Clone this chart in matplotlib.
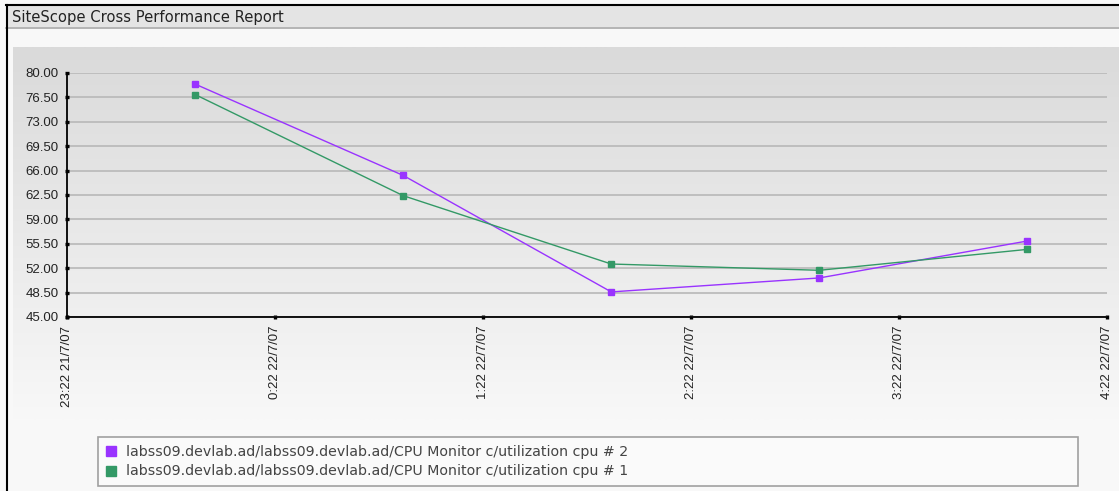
import numpy as np
import matplotlib
matplotlib.use("Agg")
import matplotlib.pyplot as plt
from matplotlib.lines import Line2D
from matplotlib.patches import Rectangle
from datetime import datetime

# samples (one per hour)
times = [datetime(2007, 7, 21, 23, 59), datetime(2007, 7, 22, 0, 59),
         datetime(2007, 7, 22, 1, 59), datetime(2007, 7, 22, 2, 59),
         datetime(2007, 7, 22, 3, 59)]
cpu2 = [78.4, 65.3, 48.6, 50.6, 55.9]
cpu1 = [76.9, 62.4, 52.6, 51.7, 54.7]
names = ["labss09.devlab.ad/labss09.devlab.ad/CPU Monitor c/utilization cpu # 2",
         "labss09.devlab.ad/labss09.devlab.ad/CPU Monitor c/utilization cpu # 1"]
colors = ["#9933ff", "#339966"]

y_ticks = [45.0, 48.5, 52.0, 55.5, 59.0, 62.5, 66.0, 69.5, 73.0, 76.5, 80.0]
x_ticks = [datetime(2007, 7, 21, 23, 22), datetime(2007, 7, 22, 0, 22),
           datetime(2007, 7, 22, 1, 22), datetime(2007, 7, 22, 2, 22),
           datetime(2007, 7, 22, 3, 22), datetime(2007, 7, 22, 4, 22)]
x_labels = ["23:22 21/7/07", "0:22 22/7/07", "1:22 22/7/07",
            "2:22 22/7/07", "3:22 22/7/07", "4:22 22/7/07"]

W, H = 1119, 491
fig = plt.figure(figsize=(W / 100, H / 100), dpi=100)
fig.patch.set_facecolor("#f8f8f8")

# page decoration in pixel coords
bg = fig.add_axes([0, 0, 1, 1])
bg.axis("off")
g = np.repeat((np.linspace(218, 248, 256) / 255)[:, None], 2, axis=1)
img = np.dstack([g, g, g])
bg.imshow(img, extent=(13, W, 420, 47), aspect="auto", origin="upper")
bg.add_patch(Rectangle((6, 5), W, 22, fc="#e4e4e4", ec="none"))
bg.plot([6, W], [27.5, 27.5], color="#a8a8a8", lw=1.2)
bg.plot([6, W], [5, 5], color="black", lw=1.5)
bg.plot([6.5, 6.5], [5, H], color="black", lw=1.5)
bg.text(12, 17, "SiteScope Cross Performance Report", fontsize=10.6,
        family="DejaVu Sans", color="#222222", va="center", ha="left")
bg.set_xlim(0, W)
bg.set_ylim(H, 0)

ax = fig.add_axes([67 / W, (H - 317) / H, (1107 - 67) / W, (317 - 73) / H])
ax.set_facecolor("none")
for t, s, c in zip(names, [cpu2, cpu1], colors):
    ax.plot(times, s, color=c, lw=1, marker="s", ms=4, label=t)

ax.set_xlim(x_ticks[0], x_ticks[-1])
ax.set_ylim(y_ticks[0], y_ticks[-1])
ax.set_yticks(y_ticks)
ax.set_yticklabels(["%.2f" % v for v in y_ticks])
ax.set_xticks(x_ticks)
ax.set_xticklabels(x_labels, rotation=90, va="top", ha="center")
ax.grid(axis="y", color="#b8b8b8", lw=1.2)
ax.set_axisbelow(True)
for side in ["top", "right"]:
    ax.spines[side].set_visible(False)
for side in ["left", "bottom"]:
    ax.spines[side].set_color("black")
    ax.spines[side].set_linewidth(1.3)
ax.tick_params(axis="both", direction="inout", length=2.4, width=2.4,
               color="black", labelsize=9.5, labelcolor="#222222")
ax.tick_params(axis="y", pad=5)
ax.tick_params(axis="x", pad=5)
for lab in ax.get_xticklabels() + ax.get_yticklabels():
    lab.set_family("Liberation Sans")

handles = [Line2D([], [], ls="none", marker="s", ms=7, color=c) for c in colors]
leg = fig.legend(handles, names, loc="upper left",
                 bbox_to_anchor=(98 / W, (H - 487) / H, (1078 - 98) / W, 50 / H),
                 mode="expand", fancybox=False, edgecolor="#a0a0a0",
                 facecolor="#fafafa", framealpha=1, fontsize=10.2,
                 handlelength=0.8, handletextpad=0.6, borderaxespad=0,
                 labelspacing=0.4, borderpad=0.55)
leg.get_frame().set_linewidth(1.2)
for t in leg.get_texts():
    t.set_color("#444444")

fig.savefig("out.png", dpi=100, facecolor=fig.get_facecolor())
